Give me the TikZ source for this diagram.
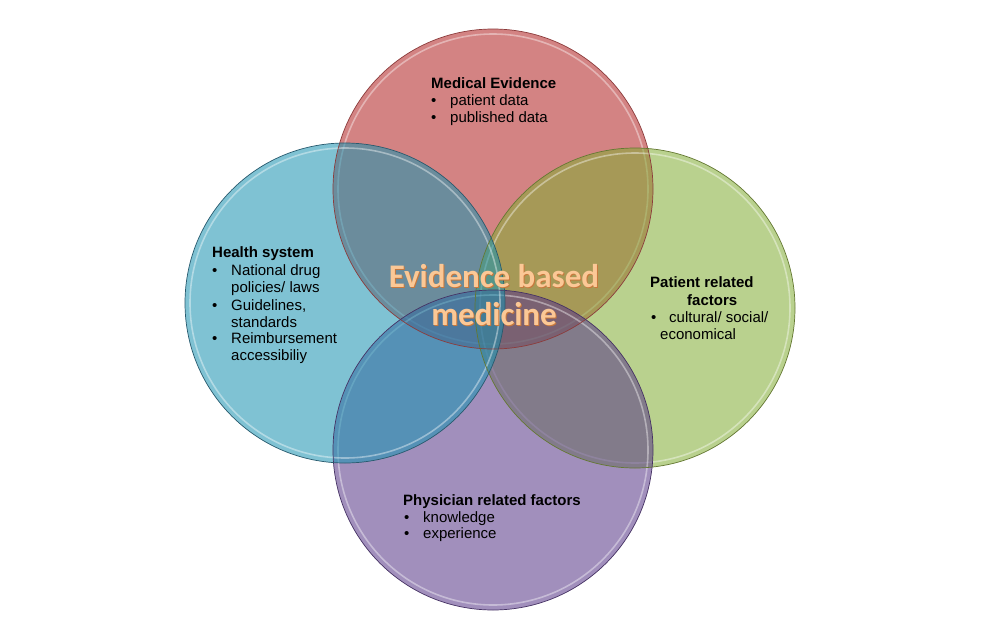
\documentclass[tikz,border=0pt]{standalone}
\usepackage{fontspec}
\setmainfont{Liberation Sans}
\newfontfamily\calib{Carlito}
\definecolor{redc}{RGB}{216,38,38}
\definecolor{redd}{RGB}{140,60,60}
\definecolor{bluec}{RGB}{30,181,218}
\definecolor{blued}{RGB}{40,90,110}
\definecolor{greenc}{RGB}{160,212,65}
\definecolor{greend}{RGB}{100,120,50}
\definecolor{purc}{RGB}{107,67,167}
\definecolor{purd}{RGB}{70,50,100}
\definecolor{peach}{RGB}{251,200,150}
\definecolor{peachd}{RGB}{200,120,60}
\tikzset{
  circ/.style={circle, minimum size=320pt, inner sep=0pt, fill opacity=0.5, line width=0.7pt,
    postaction={fill=black, fill opacity=0.1}},
  ring/.style={draw=white, draw opacity=0.4, line width=1.6pt},
  lbl/.style={anchor=base west, inner sep=0pt, text=black, font=\fontsize{15}{17}\selectfont},
  hd/.style={lbl, font=\fontsize{15}{17}\selectfont\bfseries},
  ebm/.style={anchor=base, inner sep=0pt, font=\calib\bfseries\fontsize{33}{38}\selectfont}
}
\begin{document}
\begin{tikzpicture}[x=1pt,y=-1pt]
\useasboundingbox[fill=white] (0,0) rectangle (986,619);
% circles
\node[circ, fill=redc] (med) at (493,189) {};
\draw[ring] (med.center) circle (155pt);
\node[circ, fill=greenc] (pat) at (635,308) {};
\draw[ring] (pat.center) circle (155pt);
\node[circ, fill=purc] (phy) at (493,450) {};
\draw[ring] (phy.center) circle (155pt);
\node[circ, fill=bluec] (hs) at (345,303) {};
\draw[ring] (hs.center) circle (155pt);
% outlines
\draw[redd, line width=0.7pt] (med.center) circle (160pt);
\draw[greend, line width=0.7pt] (pat.center) circle (160pt);
\draw[purd, line width=0.7pt] (phy.center) circle (160pt);
\draw[blued, line width=0.7pt] (hs.center) circle (160pt);
% Medical evidence
\node[hd] (medh) at (431,88) {Medical Evidence};
\node[lbl] (medb1) at (431,105) {•};
\node[lbl] (medt1) at (450,105) {patient data};
\node[lbl] (medb2) at (431,122) {•};
\node[lbl] (medt2) at (450,122) {published data};
% Health system
\node[hd] (hsh) at (212,257) {Health system};
\node[lbl] (hsb1) at (212,275) {•};
\node[lbl] (hst1) at (231,275) {National drug};
\node[lbl] (hst1b) at (231,292) {policies/ laws};
\node[lbl] (hsb2) at (212,310) {•};
\node[lbl] (hst2) at (231,310) {Guidelines,};
\node[lbl] (hst2b) at (231,327) {standards};
\node[lbl] (hsb3) at (212,343) {•};
\node[lbl] (hst3) at (231,343) {Reimbursement};
\node[lbl] (hst3b) at (231,360) {accessibiliy};
% Patient related factors
\node[hd] (path) at (650,287) {Patient related};
\node[hd] (path2) at (687,305) {factors};
\node[lbl] (patb1) at (651,322) {•};
\node[lbl] (patt1) at (669,322) {cultural/ social/};
\node[lbl] (patt1b) at (660,339) {economical};
% Physician related factors
\node[hd] (phyh) at (403,505) {Physician related factors};
\node[lbl] (phyb1) at (404,522) {•};
\node[lbl] (phyt1) at (423,522) {knowledge};
\node[lbl] (phyb2) at (404,538) {•};
\node[lbl] (phyt2) at (423,538) {experience};
% centre
\node[ebm, text=peachd] (ebms1) at (495,288) {Evidence based};
\node[ebm, text=peachd] (ebms2) at (495,326) {medicine};
\node[ebm, text=peach] (ebm1) at (494,287) {Evidence based};
\node[ebm, text=peach] (ebm2) at (494,325) {medicine};
\end{tikzpicture}
\end{document}
